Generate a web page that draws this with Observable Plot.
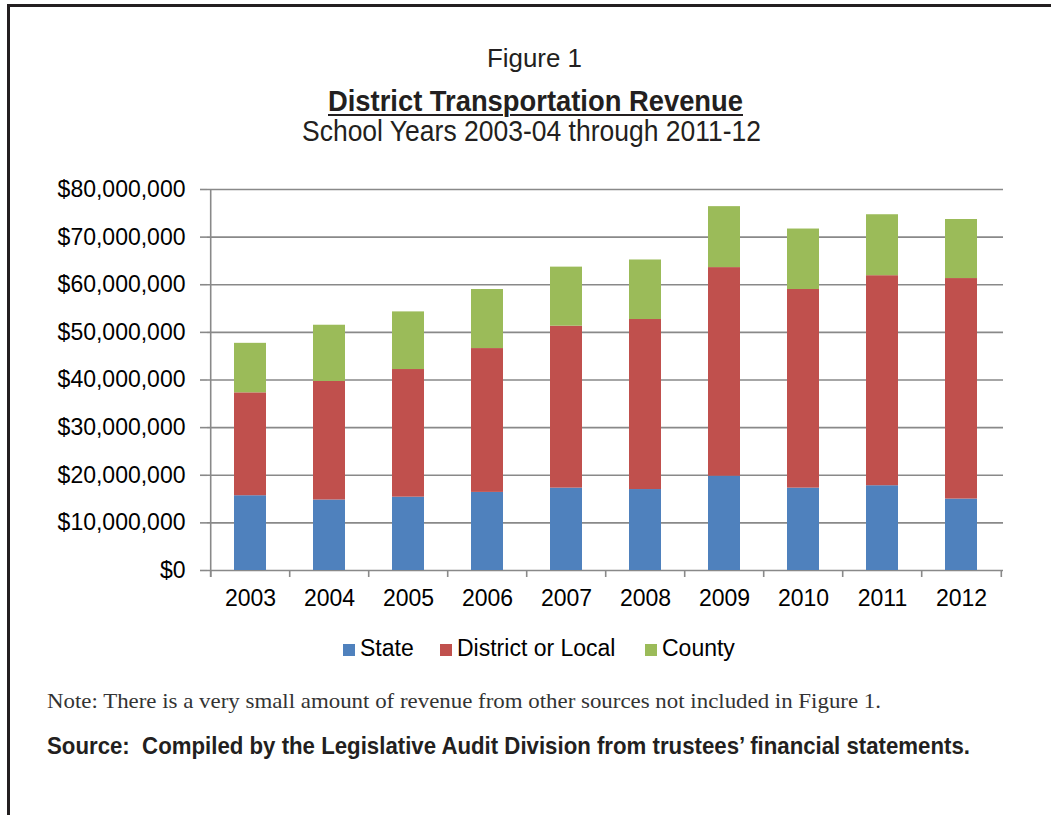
<!DOCTYPE html>
<html>
<head>
<meta charset="utf-8">
<script src="https://cdn.jsdelivr.net/npm/d3@7"></script>
<script src="https://cdn.jsdelivr.net/npm/@observablehq/plot@0.6"></script>
<style>
  html, body { margin: 0; padding: 0; background: #fff; }
  body { width: 1051px; height: 815px; position: relative; overflow: hidden; font-family: "Liberation Sans", Arial, sans-serif; color: #231f20; }
  .frame { position: absolute; left: 7px; top: 4px; width: 1200px; height: 1000px; border-top: 3px solid #231f20; border-left: 3px solid #231f20; }
  .t { position: absolute; white-space: nowrap; line-height: 1; transform-origin: 0 0; }
  #chart { position: absolute; left: 0; top: 170px; }
  .legend { position: absolute; top: 0; left: 0; }
  .sw { position: absolute; width: 12px; height: 12px; }
</style>
</head>
<body>
<div class="frame"></div>

<div class="t" id="fig" style="font-size:26px;">Figure 1</div>
<div class="t" id="ttl" style="font-size:30px;font-weight:bold;text-decoration:underline;text-decoration-thickness:2px;text-underline-offset:3px;">District Transportation Revenue</div>
<div class="t" id="sub" style="font-size:29px;">School Years 2003-04 through 2011-12</div>

<div id="chart"></div>

<div id="legend"></div>

<div class="t" id="note" style="font-family:'Liberation Serif','Times New Roman',serif;font-size:22px;color:#333;">Note: There is a very small amount of revenue from other sources not included in Figure 1.</div>
<div class="t" id="src" style="font-size:24px;font-weight:bold;color:#231f20;">Source:&nbsp; Compiled by the Legislative Audit Division from trustees’ financial statements.</div>

<script>
// ---- data ----
const years = ["2003", "2004", "2005", "2006", "2007", "2008", "2009", "2010", "2011", "2012"];
const sources = ["State", "District or Local", "County"];
const stateRevenue    = [15700000, 14800000, 15400000, 16400000, 17300000, 17000000, 19800000, 17300000, 17800000, 15000000];
const districtRevenue = [21600000, 24900000, 26800000, 30200000, 34000000, 35700000, 43800000, 41700000, 44100000, 46300000];
const countyRevenue   = [10400000, 11800000, 12100000, 12400000, 12400000, 12500000, 12800000, 12700000, 12800000, 12400000];
const yTicks = [0, 10000000, 20000000, 30000000, 40000000, 50000000, 60000000, 70000000, 80000000];
const colors = ["#4f81bd", "#c0504d", "#9bbb59"];

// ---- table for Plot ----
const seriesValues = [stateRevenue, districtRevenue, countyRevenue];
const rows = [];
years.forEach((year, i) => {
  sources.forEach((source, s) => rows.push({year, source, value: seriesValues[s][i]}));
});

// ---- layout ----
const W = 1051, H = 450;
const mL = 207, mR = 48, mT = 19, mB = 50;
const step = (W - mL - mR) / years.length;
const plotH = H - mT - mB;
const grid = "#898989";

const chart = Plot.plot({
  width: W, height: H,
  marginLeft: mL, marginRight: mR, marginTop: mT, marginBottom: mB,
  style: {fontFamily: "'Liberation Sans', Arial, sans-serif", fontSize: "23px", color: "#000", background: "transparent", overflow: "visible"},
  x: {domain: years, paddingInner: 0.6, paddingOuter: 0.3, label: null},
  y: {domain: [0, 80000000], label: null},
  color: {domain: sources, range: colors},
  marks: [
    Plot.ruleY(yTicks, {stroke: grid, strokeWidth: 1.6}),
    Plot.barY(rows, {x: "year", y: "value", fill: "source"}),
    Plot.axisY({ticks: yTicks, tickSize: 7, tickPadding: 15, stroke: grid, strokeWidth: 1.6, fill: "#000", tickFormat: d3.format("$,"), label: null}),
    Plot.axisX({tickSize: 0, tickPadding: 19, fill: "#000", label: null}),
    Plot.ruleX(years.slice(0, 1), {dx: -step / 2, stroke: grid, strokeWidth: 1.6, insetBottom: -7}),
    Plot.ruleX(years, {dx: -step / 2, stroke: grid, strokeWidth: 1.6, insetTop: plotH, insetBottom: -7}),
    Plot.ruleX(years.slice(-1), {dx: step / 2, stroke: grid, strokeWidth: 1.6, insetTop: plotH, insetBottom: -7})
  ]
});
document.getElementById("chart").appendChild(chart);

// ---- legend ----
const legend = document.getElementById("legend");
const swLeft = [343, 440, 645];
sources.forEach((s, i) => {
  const sw = document.createElement("div");
  sw.className = "sw";
  sw.style.left = swLeft[i] + "px";
  sw.style.top = "643.5px";
  sw.style.background = colors[i];
  legend.appendChild(sw);
  const tx = document.createElement("div");
  tx.className = "t";
  tx.style.fontSize = "23px";
  tx.style.color = "#000";
  tx.style.left = (swLeft[i] + 17) + "px";
  tx.style.top = (656.7 - 0.8465 * 23) + "px";
  tx.textContent = s;
  legend.appendChild(tx);
});

// ---- fit text to reference widths ----
function place(id, left, width, baseline, fontPx, asc) {
  const el = document.getElementById(id);
  el.style.transform = "none";
  el.style.left = left + "px";
  el.style.top = (baseline - asc * fontPx) + "px";
  const w = el.getBoundingClientRect().width;
  el.style.transform = "scaleX(" + (width / w) + ")";
}
function layout() {
  place("fig", 486.7, 95, 66.7, 26, 0.8465);
  place("ttl", 328.3, 415, 111.7, 30, 0.8465);
  place("sub", 301.7, 459, 141.7, 29, 0.8465);
  place("note", 46.7, 834, 708.3, 22, 0.8375);
  place("src", 46.7, 923, 754.3, 24, 0.8465);
}
layout();
if (document.fonts && document.fonts.ready) document.fonts.ready.then(layout);
</script>
</body>
</html>
